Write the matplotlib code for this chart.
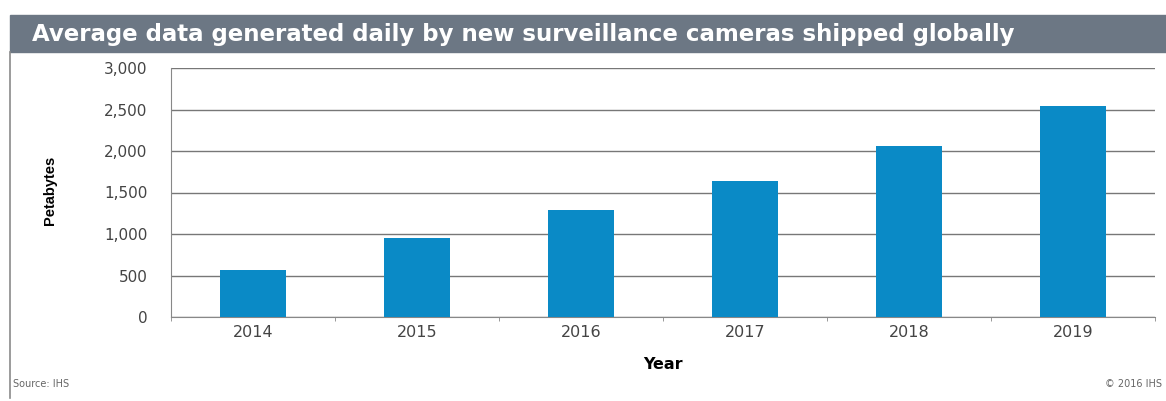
import matplotlib.pyplot as plt
import matplotlib.patches as mpatches
import numpy as np

years = ['2014', '2015', '2016', '2017', '2018', '2019']
petabytes = [570, 950, 1290, 1640, 2060, 2540]
yticks = [0, 500, 1000, 1500, 2000, 2500, 3000]

fig = plt.figure(figsize=(11.66, 4.01), dpi=100)
W, H = 1166, 401

# title bar
fig.patches.append(mpatches.Rectangle((10 / W, 1 - 52 / H), 1 - 10 / W, 37 / H,
                                      transform=fig.transFigure, color='#6c7784', zorder=0))
fig.text(32 / W, 1 - 34 / H, 'Average data generated daily by new surveillance cameras shipped globally',
         color='white', fontsize=16.5, fontweight='bold', va='center', ha='left')
# left frame line
fig.add_artist(plt.Line2D([10 / W, 10 / W], [1 - 398 / H, 1 - 52 / H], transform=fig.transFigure,
                          color='#8a8a8a', lw=1.2))

ax = fig.add_axes([171 / W, 1 - 317 / H, (1155 - 171) / W, (317 - 68) / H])
x = np.arange(len(years))
ax.bar(x, petabytes, width=0.4, color='#0a8ac6', zorder=3)
ax.set_xlim(-0.5, 5.5)
ax.set_ylim(0, 3000)
ax.set_yticks(yticks)
ax.set_yticklabels([f'{v:,}' for v in yticks], color='#444444', fontsize=11)
ax.set_xticks(x)
ax.set_xticklabels(years, color='#444444', fontsize=11.5)
ax.tick_params(axis='x', length=0, pad=6)
ax.tick_params(axis='y', length=0, pad=17)
ax.set_xticks(np.arange(-0.5, 6, 1), minor=True)
ax.tick_params(axis='x', which='minor', length=3, color='#888888')
ax.grid(axis='y', color='#777777', lw=1, zorder=1)
for s in ['top', 'right']:
    ax.spines[s].set_visible(False)
ax.spines['left'].set_color('#888888')
ax.spines['bottom'].set_color('#888888')
ax.set_ylabel('Petabytes', fontsize=10.5, fontweight='bold', family='Liberation Sans')
ax.yaxis.set_label_coords(-(171 - 57) / (1155 - 171), (317 - 190) / (317 - 68))
ax.set_xlabel('Year', fontsize=11.5, fontweight='bold', labelpad=12)

fig.text(13 / W, 1 - 384 / H, 'Source: IHS', fontsize=7, color='#666666', va='center')
fig.text(1162 / W, 1 - 384 / H, '© 2016 IHS', fontsize=7, color='#666666', va='center', ha='right')

fig.savefig('out.png', dpi=100, facecolor='white')
